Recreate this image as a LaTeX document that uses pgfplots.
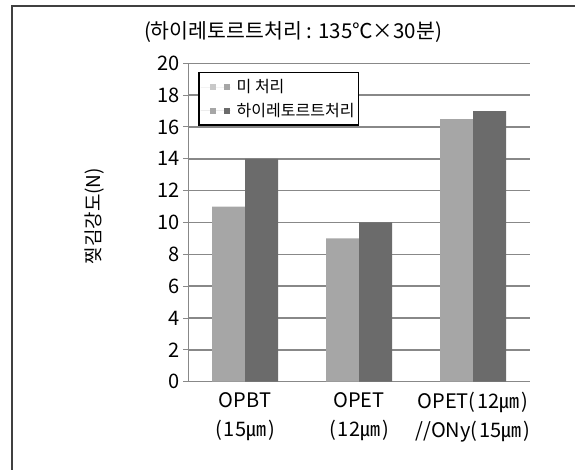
\documentclass[border=0pt]{standalone}
\usepackage{fontspec}
\setmainfont{Noto Sans CJK KR}
\usepackage{pgfplots}
\pgfplotsset{compat=1.18}

\definecolor{untreated}{HTML}{A6A6A6}
\definecolor{untreatedlight}{HTML}{C8C8C8}
\definecolor{retort}{HTML}{6B6B6B}
\definecolor{gridgray}{HTML}{888888}

% peel strength (N): before / after retort treatment
\pgfplotstableread{
idx untreated retort
0   11        14
1   9         10
2   16.5      17
}\peeldata

\begin{document}
\begin{tikzpicture}[x=1pt,y=1pt]
\useasboundingbox (0,0) rectangle (575,470);
% frame
\draw[line width=2pt, black!75] (12,0) -- (12,464) -- (575,464);
% condition note
\node[font=\fontsize{20.5}{24}\selectfont] at (293,438) {(하이레토르트처리 : 135℃×30분)};
\begin{axis}[
  at={(188pt,88.3pt)}, anchor=south west,
  scale only axis, width=342pt, height=318.4pt,
  ymin=0, ymax=20, xmin=-0.5, xmax=2.5,
  ytick={0,2,...,20},
  xtick={0,1,2},
  xticklabels={
    {OPBT\\[6pt](\hspace{2pt}15㎛\hspace{2pt})},
    {OPET\\[6pt](\hspace{2pt}12㎛\hspace{2pt})},
    {OPET(\hspace{2pt}12㎛\hspace{2pt})\\[6pt]//ONy(\hspace{2pt}15㎛\hspace{2pt})}},
  xticklabel style={align=center, font=\fontsize{20}{23}\selectfont, yshift=-2pt},
  yticklabel style={font=\fontsize{20}{23}\selectfont},
  /pgf/number format/assume math mode=true,
  axis x line*=bottom, axis y line*=left,
  x axis line style={-, gridgray, line width=1.4pt},
  y axis line style={-, gridgray, line width=1pt},
  ymajorgrids, grid style={gridgray, line width=1.5pt},
  tick align=outside, major tick length=5pt,
  ytick style={gridgray, line width=1pt},
  xtick style={draw=none},
  ylabel={찢김강도(N)},
  ylabel style={font=\fontsize{19}{22}\selectfont, at={(axis description cs:-0.272,0.52)}, anchor=center},
  ybar=0pt, bar width=33pt,
  legend style={at={(0.029,0.973)}, anchor=north west, draw=black, line width=1.6pt,
    fill=white, font=\fontsize{16}{18}\selectfont, inner xsep=2pt, inner ysep=5pt,
    row sep=5pt, /tikz/every odd column/.append style={column sep=4pt}},
  legend cell align=left,
]
\addplot[fill=untreated, draw=none,
  legend image code/.code={
    \path (0pt,0pt) -- (30pt,0pt);
    \fill[untreatedlight] (9pt,-3pt) rectangle (15pt,3pt);
    \fill[untreated] (23pt,-3pt) rectangle (29pt,3pt);}]
  table[x=idx, y=untreated] {\peeldata};
\addplot[fill=retort, draw=none,
  legend image code/.code={
    \path (0pt,0pt) -- (30pt,0pt);
    \fill[untreated] (9pt,-3pt) rectangle (15pt,3pt);
    \fill[retort] (23pt,-3pt) rectangle (29pt,3pt);}]
  table[x=idx, y=retort] {\peeldata};
\legend{미 처리, 하이레토르트처리}
\end{axis}
\end{tikzpicture}
\end{document}
